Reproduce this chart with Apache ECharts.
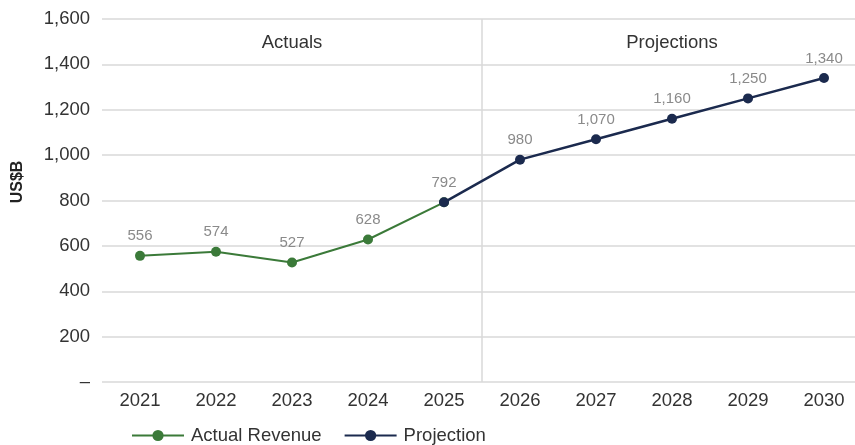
<!DOCTYPE html>
<html>
<head>
<meta charset="utf-8">
<script src="https://cdn.jsdelivr.net/npm/echarts@6/dist/echarts.min.js"></script>
<style>
  html, body { margin: 0; padding: 0; background: #fff; }
  #chart { width: 855px; height: 445px; }
</style>
</head>
<body>
<div id="chart"></div>
<script>
// Revenue, US$ billions
const years = ['2021', '2022', '2023', '2024', '2025', '2026', '2027', '2028', '2029', '2030'];
const actualRevenue = [556, 574, 527, 628, 792, null, null, null, null, null];
const projection = [null, null, null, null, 792, 980, 1070, 1160, 1250, 1340];
const yTicks = [0, 200, 400, 600, 800, 1000, 1200, 1400, 1600];
const periodLabels = ['Actuals', 'Projections'];
const lastActualIndex = 4;

const GREEN = '#3b7a39';
const NAVY = '#1b2a4e';
const GRID_GREY = '#d9d9d9';
const FONT = '"Liberation Sans", Arial, sans-serif';

const fmt = v => v === 0 ? '–' : v.toLocaleString('en-US');

const chart = echarts.init(document.getElementById('chart'));
chart.setOption({
  animation: false,
  textStyle: { fontFamily: FONT },
  // the last category runs slightly past the right edge of the canvas
  grid: { left: 102, top: 19, width: 760, height: 363, outerBoundsMode: 'none' },
  legend: {
    top: 421,
    left: 126,
    itemWidth: 52,
    itemHeight: 14,
    itemGap: 22,
    textStyle: { fontSize: 18.5, color: '#333', fontFamily: FONT, padding: [0, 0, 0, 2] },
    data: ['Actual Revenue', 'Projection']
  },
  xAxis: {
    type: 'category',
    data: years,
    boundaryGap: true,
    axisLine: { show: false },
    axisTick: { show: false },
    axisLabel: { fontSize: 18.5, color: '#333', margin: 9 }
  },
  yAxis: {
    type: 'value',
    min: yTicks[0],
    max: yTicks[yTicks.length - 1],
    interval: 200,
    axisLine: { show: false },
    axisTick: { show: false },
    axisLabel: { fontSize: 18.5, color: '#333', margin: 12, formatter: fmt },
    splitLine: { lineStyle: { color: GRID_GREY, width: 1.5 } }
  },
  series: [
    {
      name: 'Actual Revenue',
      type: 'line',
      data: actualRevenue,
      symbol: 'circle',
      symbolSize: 10,
      lineStyle: { width: 2, color: GREEN },
      itemStyle: { color: GREEN },
      label: {
        show: true,
        position: 'top',
        distance: 7,
        fontSize: 15,
        color: '#8a8a8a',
        formatter: p => fmt(p.value)
      },
      z: 2
    },
    {
      name: 'Projection',
      type: 'line',
      data: projection,
      symbol: 'circle',
      symbolSize: 10,
      lineStyle: { width: 2.5, color: NAVY },
      itemStyle: { color: NAVY },
      label: {
        show: true,
        position: 'top',
        distance: 7,
        fontSize: 15,
        color: '#8a8a8a',
        formatter: p => p.dataIndex === lastActualIndex ? '' : fmt(p.value)
      },
      z: 3
    }
  ]
});

// Divider between actuals and projections, plus period headings,
// placed from the axis scales.
const px = (i, v) => chart.convertToPixel({ gridIndex: 0 }, [i, v]);
const pA = px(lastActualIndex, 0);
const pB = px(lastActualIndex + 1, 0);
const plotTop = px(0, yTicks[yTicks.length - 1])[1];
const plotBottom = pA[1];
const divX = (pA[0] + pB[0]) / 2;
const firstX = px(0, 0)[0];
const lastX = px(years.length - 1, 0)[0];

chart.setOption({
  graphic: [
    {
      type: 'line',
      z: 1,
      shape: { x1: divX, y1: plotTop, x2: divX, y2: plotBottom },
      style: { stroke: GRID_GREY, lineWidth: 1.5 }
    },
    {
      type: 'text',
      style: {
        x: (firstX + pA[0]) / 2, y: 43, text: periodLabels[0],
        font: '18.5px ' + FONT, fill: '#333', align: 'center', verticalAlign: 'middle'
      }
    },
    {
      type: 'text',
      style: {
        x: (pB[0] + lastX) / 2, y: 43, text: periodLabels[1],
        font: '18.5px ' + FONT, fill: '#333', align: 'center', verticalAlign: 'middle'
      }
    },
    {
      type: 'text',
      x: 18, y: 182, rotation: Math.PI / 2,
      style: {
        x: 0, y: 0, text: 'US$B',
        font: 'bold 16px ' + FONT, fill: '#222', align: 'center', verticalAlign: 'middle'
      }
    }
  ]
});
</script>
</body>
</html>
